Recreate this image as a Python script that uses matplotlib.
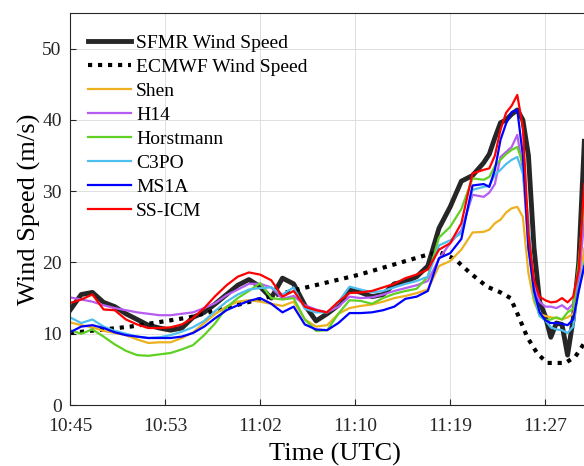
import numpy as np
import matplotlib
matplotlib.use('Agg')
import matplotlib.pyplot as plt

matplotlib.rc('font', family='Liberation Serif', size=14)

# minutes after 10:45 UTC
t = [0, 1, 2, 3, 4, 5, 6, 7, 8, 9, 10, 11, 12, 13, 14, 15, 16, 17, 18, 19,
     20, 21, 22, 23, 24, 25, 26, 27, 28, 29, 30, 31, 32, 33, 34, 35, 36, 37,
     37.5, 38, 38.5, 39, 39.5, 40, 40.5, 41, 41.5, 42, 42.5, 43, 43.5, 44,
     44.5, 45, 45.5, 46]

sfmr = [13.3, 15.5, 15.8, 14.4, 13.8, 12.8, 12.0, 11.2, 10.8, 10.5, 10.8, 12.3,
        13.0, 14.2, 15.5, 16.8, 17.6, 16.6, 15.0, 17.8, 17.0, 14.0, 11.8, 12.8,
        14.0, 16.2, 15.8, 15.2, 15.5, 17.0, 17.3, 18.0, 19.5, 24.8, 27.8, 31.4,
        32.2, 34.0, 35.2, 37.5, 39.6, 40.0, 40.8, 41.4, 40.0, 35.0, 22.0, 14.5,
        12.5, 9.5, 11.5, 11.3, 7.0, 12.0, 20.0, 37.0]

shen = [11.6, 11.2, 10.9, 10.4, 10.1, 9.8, 9.2, 8.7, 8.8, 8.8, 9.4, 10.2,
        11.5, 12.8, 13.8, 14.5, 14.7, 14.5, 14.2, 13.9, 14.5, 12.0, 11.0, 11.2,
        12.8, 13.6, 13.9, 14.1, 14.5, 15.0, 15.3, 15.7, 16.2, 19.5, 20.2, 21.8,
        24.2, 24.3, 24.6, 25.5, 26.0, 27.0, 27.6, 27.8, 26.4, 18.5, 14.5, 12.8,
        12.5, 12.3, 12.2, 12.0, 12.3, 12.8, 16.0, 22.0]

h14 = [15.1, 14.8, 14.5, 14.0, 13.6, 13.3, 13.0, 12.8, 12.6, 12.6, 12.8, 13.0,
       13.6, 14.3, 15.4, 16.2, 17.0, 17.0, 16.5, 14.9, 15.3, 14.0, 13.4, 13.0,
       13.8, 15.2, 15.0, 15.1, 15.5, 16.0, 16.4, 16.8, 17.4, 20.5, 22.7, 24.5,
       29.5, 29.2, 29.8, 31.0, 34.8, 35.5, 36.2, 37.9, 33.0, 22.0, 16.5, 14.5,
       13.8, 13.8, 13.6, 14.0, 13.4, 14.2, 17.5, 26.0]

horstmann = [10.5, 10.0, 10.6, 9.6, 8.5, 7.6, 7.0, 6.9, 7.1, 7.3, 7.8, 8.4,
             9.8, 11.5, 13.7, 15.0, 16.0, 17.1, 15.0, 14.8, 15.0, 12.0, 10.4,
             10.5, 12.8, 14.7, 14.6, 14.2, 15.0, 15.6, 16.0, 16.3, 18.0, 23.5,
             25.0, 27.5, 31.8, 31.6, 32.0, 33.5, 34.4, 35.2, 35.8, 36.2, 33.9,
             23.0, 15.0, 12.5, 11.9, 12.0, 12.3, 12.0, 13.0, 13.5, 20.0, 29.0]

c3po = [12.3, 11.5, 12.0, 11.0, 10.4, 10.0, 9.6, 9.4, 9.5, 9.8, 10.3, 10.9,
        11.8, 13.2, 14.5, 15.5, 16.2, 16.4, 16.5, 15.5, 16.5, 13.5, 13.0, 13.0,
        14.4, 16.6, 16.2, 15.8, 16.0, 16.5, 17.0, 17.4, 18.0, 22.4, 23.1, 24.1,
        30.2, 30.6, 30.8, 32.3, 33.0, 33.8, 34.4, 34.8, 32.5, 26.0, 15.5, 12.5,
        11.9, 10.9, 10.6, 10.5, 10.1, 11.0, 16.5, 20.0]

ms1a = [10.2, 11.0, 11.2, 10.8, 10.2, 9.8, 9.6, 9.4, 9.4, 9.4, 9.6, 10.1,
        11.0, 12.2, 13.3, 14.0, 14.6, 15.0, 14.2, 13.0, 13.8, 11.3, 10.6, 10.5,
        11.5, 12.9, 12.9, 13.0, 13.3, 13.8, 14.9, 15.2, 16.0, 20.6, 21.3, 23.3,
        30.8, 31.0, 30.6, 33.0, 37.2, 39.5, 41.1, 41.4, 35.0, 22.0, 16.0, 13.0,
        11.9, 11.5, 11.5, 11.4, 11.2, 12.0, 16.0, 19.5]

ssicm = [14.3, 14.8, 15.5, 13.4, 13.3, 12.0, 11.3, 10.8, 10.8, 10.9, 11.3, 12.2,
         13.6, 15.3, 16.8, 18.0, 18.6, 18.3, 17.5, 15.2, 16.0, 13.8, 13.3, 13.0,
         14.5, 15.7, 15.8, 16.0, 16.5, 17.0, 17.8, 18.3, 19.0, 21.8, 22.7, 25.5,
         32.5, 33.0, 33.2, 35.0, 38.6, 41.0, 42.0, 43.5, 39.0, 24.0, 17.5, 15.2,
         14.7, 14.4, 14.5, 15.0, 14.4, 15.2, 19.0, 31.0]

# model wind is much coarser, so it has its own time base
t_ecmwf = [0, 5.4, 10.7, 16.1, 20.6, 25.9, 32.2, 33.1, 34.4, 35.8, 37.3, 38.5,
           39.4, 40.1, 40.9, 41.8, 42.7, 44.3, 45.2, 46.0]
ecmwf = [10.1, 11.0, 12.3, 14.5, 16.3, 18.3, 21.2, 21.4, 20.5, 18.5, 16.6, 15.8,
         15.0, 12.5, 9.5, 7.2, 5.9, 5.9, 6.8, 8.7]

tick_pos = [0, 8.5, 17, 25.5, 34, 42.5]
tick_lab = ['10:45', '10:53', '11:02', '11:10', '11:19', '11:27']

fig = plt.figure(figsize=(5.84, 4.66), dpi=100)
ax = fig.add_axes([0.1199, 0.1309, 0.9075, 0.8412])

ax.plot(t, sfmr, color='#262626', lw=3.5, label='SFMR Wind Speed')
ax.plot(t_ecmwf, ecmwf, color='k', lw=3, linestyle=(0, (1, 1.4)),
        label='ECMWF Wind Speed')
ax.plot(t, shen, color='#EDB120', lw=1.6, label='Shen')
ax.plot(t, h14, color='#B65CF2', lw=1.6, label='H14')
ax.plot(t, horstmann, color='#5FD123', lw=1.6, label='Horstmann')
ax.plot(t, c3po, color='#4DBEEE', lw=1.6, label='C3PO')
ax.plot(t, ms1a, color='#0000FF', lw=1.6, label='MS1A')
ax.plot(t, ssicm, color='#FF0000', lw=1.6, label='SS-ICM')

ax.set_xlim(0, 47.4)
ax.set_ylim(0, 55)
ax.set_xticks(tick_pos)
ax.set_xticklabels(tick_lab)
ax.set_yticks(np.arange(0, 51, 10))
ax.tick_params(direction='in', length=4, width=0.8, colors='#262626',
               labelsize=14)
ax.tick_params(axis='x', pad=9.3)
ax.tick_params(axis='y', pad=6)
for s in ax.spines.values():
    s.set_color('#262626')
    s.set_linewidth(0.8)
ax.grid(True, color='#dedede', lw=0.7)
ax.set_axisbelow(True)

ax.set_xlabel('Time (UTC)', fontsize=19, labelpad=6)
ax.set_ylabel('Wind Speed (m/s)', fontsize=19, labelpad=0.5)

ax.legend(loc='upper left', bbox_to_anchor=(0.02, 0.965), frameon=False,
          fontsize=14, handlelength=2.2, handletextpad=0.25,
          labelspacing=0.33, borderaxespad=0)

fig.savefig('out.png', dpi=100)
